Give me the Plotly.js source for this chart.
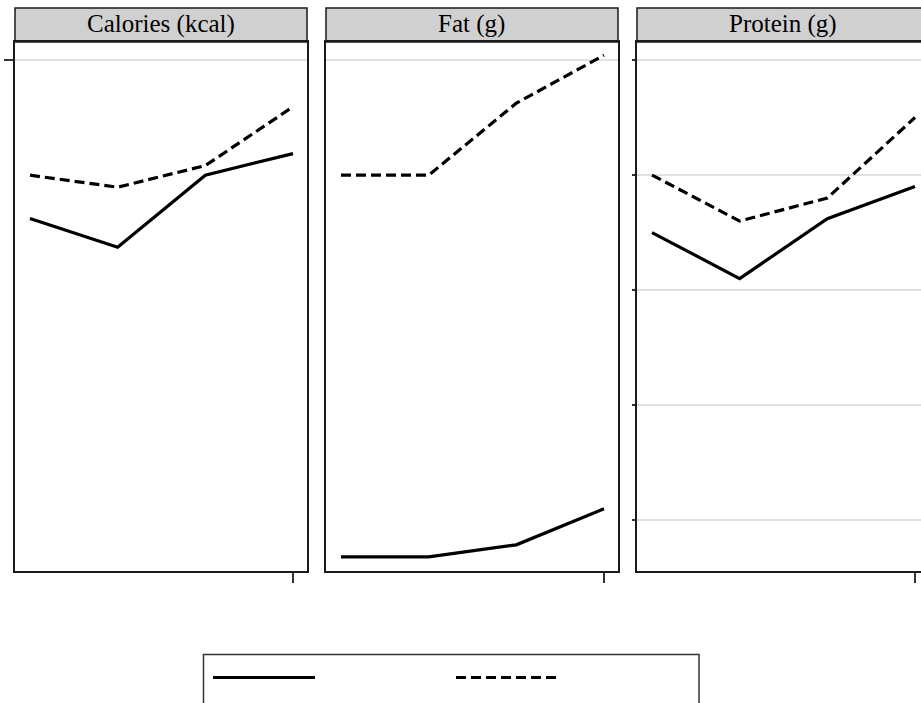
<!DOCTYPE html>
<html>
<head>
<meta charset="utf-8">
<script src="https://cdn.plot.ly/plotly-3.0.1.min.js"></script>
<style>
  html, body { margin: 0; padding: 0; overflow: hidden; background: #fff; }
  #chart { width: 940px; height: 730px; }
</style>
</head>
<body>
<div id="chart"></div>
<script>
// Panel headings
const panelTitles = ['Calories (kcal)', 'Fat (g)', 'Protein (g)'];

// Survey waves on the x axis
const waves = [1, 2, 3, 4];

// Mean intake per wave, two groups (solid / dashed)
const caloriesSolid  = [2368, 2344, 2404, 2422];
const caloriesDashed = [2404, 2394, 2412, 2461];
const fatSolid       = [58.6, 58.6, 59.6, 62.6];
const fatDashed      = [90.4, 90.4, 96.4, 100.4];
const proteinSolid   = [65.0, 61.0, 66.2, 69.0];
const proteinDashed  = [70.0, 66.0, 68.0, 75.0];

// Y tick values per panel
const caloriesTicks = [2000, 2500];
const fatTicks      = [50, 100];
const proteinTicks  = [40, 50, 60, 70, 80];

const W = 940, H = 730;
const px = v => v / W;          // horizontal pixel -> paper
const py = v => (H - v) / H;    // vertical pixel (from top) -> paper

const solidLine  = { color: '#000', width: 3.2 };
const dashedLine = { color: '#000', width: 3.2, dash: '10px,5px' };

const series = [
  [caloriesSolid, caloriesDashed],
  [fatSolid, fatDashed],
  [proteinSolid, proteinDashed]
];

const traces = [];
series.forEach((pair, i) => {
  const sfx = i === 0 ? '' : String(i + 1);
  traces.push({ x: waves, y: pair[0], type: 'scatter', mode: 'lines', line: solidLine,
                xaxis: 'x' + sfx, yaxis: 'y' + sfx, name: 'Group 1', showlegend: false });
  traces.push({ x: waves, y: pair[1], type: 'scatter', mode: 'lines', line: dashedLine,
                xaxis: 'x' + sfx, yaxis: 'y' + sfx, name: 'Group 2', showlegend: false,
                cliponaxis: false });
});

const frameColor = '#1a1a1a';
const panelLeft = [15, 326, 637];
const panelWidth = 292;
const yDomain = [py(571), py(42)];
const xRange = [0.829, 4.16];

function xAxis(i) {
  return {
    domain: [px(panelLeft[i]), px(panelLeft[i] + panelWidth)],
    range: xRange, showgrid: false, zeroline: false,
    showline: true, mirror: true, linecolor: frameColor, linewidth: 1.8,
    tickvals: [4], ticks: 'outside', ticklen: 10, tickwidth: 1.5, tickcolor: '#333',
    showticklabels: false, fixedrange: true
  };
}
function yAxis(i, range, ticks, ticklen, anchor) {
  return {
    domain: yDomain, range: range, anchor: anchor, zeroline: false,
    showline: true, mirror: true, linecolor: frameColor, linewidth: 1.8,
    showgrid: true, gridcolor: '#e0e0e0', gridwidth: 1.5,
    tickvals: ticks, ticks: ticklen > 0 ? 'outside' : '', ticklen: ticklen,
    tickwidth: 1.5, tickcolor: '#333', showticklabels: false, fixedrange: true
  };
}

const shapes = [];
const annotations = [];
panelLeft.forEach((left, i) => {
  shapes.push({ type: 'rect', xref: 'paper', yref: 'paper',
    x0: px(left), x1: px(left + panelWidth), y0: py(42), y1: py(8),
    fillcolor: '#d0d0d0', line: { color: frameColor, width: 1.5 }, layer: 'below' });
  annotations.push({ xref: 'paper', yref: 'paper', x: px(left + panelWidth / 2), y: py(24),
    xanchor: 'center', yanchor: 'middle', showarrow: false, text: panelTitles[i],
    font: { family: 'Liberation Serif', size: 25, color: '#000' } });
});

// Legend frame and key lines
shapes.push({ type: 'rect', xref: 'paper', yref: 'paper',
  x0: px(203.5), x1: px(699), y0: py(720), y1: py(654.5),
  fillcolor: 'rgba(0,0,0,0)', line: { color: '#333', width: 1.5 } });
shapes.push({ type: 'line', xref: 'paper', yref: 'paper',
  x0: px(213), x1: px(315), y0: py(677.5), y1: py(677.5), line: solidLine });
shapes.push({ type: 'line', xref: 'paper', yref: 'paper',
  x0: px(456), x1: px(557), y0: py(677.5), y1: py(677.5), line: dashedLine });

const layout = {
  width: W, height: H,
  margin: { l: 0, r: 0, t: 0, b: 0 },
  paper_bgcolor: '#fff', plot_bgcolor: '#fff',
  showlegend: false,
  xaxis: xAxis(0), xaxis2: xAxis(1), xaxis3: xAxis(2),
  yaxis:  yAxis(0, [2074.17, 2515], caloriesTicks, 9, 'x'),
  yaxis2: yAxis(1, [57.42, 101.5], fatTicks, 0, 'x2'),
  yaxis3: yAxis(2, [35.57, 81.57], proteinTicks, 3, 'x3'),
  shapes: shapes,
  annotations: annotations
};
layout.xaxis.anchor = 'y';
layout.xaxis2.anchor = 'y2';
layout.xaxis3.anchor = 'y3';

Plotly.newPlot('chart', traces, layout, { displayModeBar: false, staticPlot: true });
</script>
</body>
</html>
